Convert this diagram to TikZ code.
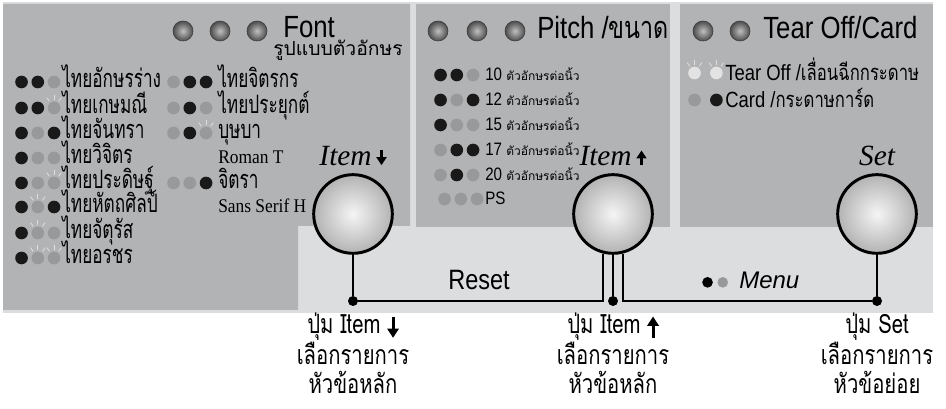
\documentclass[tikz,border=0pt]{standalone}
\usepackage{fontspec}
\setmainfont{Liberation Serif}
\setsansfont{Liberation Sans}
\newfontfamily\thaifont[Script=Thai]{Loma}
\newfontfamily\thailist[Script=Thai,FakeStretch=0.68]{Loma}
\newfontfamily\thaicond[Script=Thai,FakeStretch=0.76]{Loma}
\newfontfamily\condsans[FakeStretch=0.84]{Liberation Sans}
\newfontfamily\condserif[FakeStretch=0.9]{Liberation Serif}
\usetikzlibrary{arrows.meta,positioning}
\definecolor{panelgray}{RGB}{178,179,181}
\definecolor{basegray}{RGB}{220,221,223}
\definecolor{ledgray}{RGB}{152,153,155}

\newcommand\headfont{\condsans\fontsize{23}{25}\selectfont}
\newcommand\listfont{\thailist\fontsize{19}{21}\selectfont}
\newcommand\pitchfont{\condsans\fontsize{13.5}{15}\selectfont}
\newcommand\captionfont{\thaicond\fontsize{20}{22}\selectfont}
\newcommand\keydown{\tikz[baseline=0pt]\draw[line width=1.7pt,-{Triangle[width=7.5pt,length=6pt]}] (0,11pt) -- (0,0pt);}
\newcommand\keyup{\tikz[baseline=0pt]\draw[line width=1.7pt,-{Triangle[width=7.5pt,length=6pt]}] (0,0pt) -- (0,11pt);}
\newcommand\capdown{\tikz[baseline=0pt]\draw[line width=2.2pt,-{Triangle[width=8.5pt,length=7pt]}] (0,13pt) -- (0,-3pt);}
\newcommand\capup{\tikz[baseline=0pt]\draw[line width=2.2pt,-{Triangle[width=8.5pt,length=7pt]}] (0,-3pt) -- (0,13pt);}
\newcommand\ledtrio[5][1pt]{%
  \node[#5,left=#1 of #2.base west,yshift=4.5pt] (#2-3) {};
  \node[#4,left=2.3pt of #2-3] (#2-2) {};
  \node[#3,left=2.3pt of #2-2] (#2-1) {};
}
\newcommand\ledpair[3]{%
  \node[#3,left=1.5pt of #1.base west,yshift=6pt] (#1-2) {};
  \node[#2,left=6.5pt of #1-2] (#1-1) {};
}

\begin{document}
\begin{tikzpicture}[x=0.75pt,y=-0.75pt,
  lamp/.style={circle,inner sep=0pt,minimum size=15pt,draw=gray!50!black,line width=0.5pt,
    inner color=gray!50,outer color=gray!60!black},
  ledon/.style={circle,inner sep=0pt,minimum size=9.5pt,fill=black!90},
  ledoff/.style={circle,inner sep=0pt,minimum size=9.5pt,fill=ledgray},
  ray/.style={draw=gray!25,line width=0.6pt,shorten <=1.2pt},
  ledlit/.style={ledoff,append after command={
    (\tikzlastnode.90) edge[ray] ++(90:4.5pt)
    (\tikzlastnode.55) edge[ray] ++(55:4.5pt)
    (\tikzlastnode.125) edge[ray] ++(125:4.5pt)}},
  ledpale/.style={ledlit,fill=gray!22},
  row/.style={anchor=base west,inner sep=0pt},
  fontrow/.style={row,font=\listfont},
  pitchrow/.style={row,font=\pitchfont},
  tearrow/.style={row,font=\condsans\fontsize{16.5}{18}\selectfont},
  head/.style={row,font=\headfont},
  button/.style={circle,draw=black,line width=2.2pt,minimum size=59pt,inner sep=0pt,
    inner color=gray!8,outer color=gray!60},
  keylabel/.style={inner sep=0pt,font=\itshape\fontsize{22}{24}\selectfont},
  caption/.style={align=center,inner sep=0pt,font=\captionfont},
  jdot/.style={circle,fill=black,minimum size=7.5pt,inner sep=0pt},
  wire/.style={line width=1.6pt}]

\useasboundingbox (0,0) rectangle (946,409);

% panels
\fill[basegray] (3,2) rectangle (933,313);
\fill[panelgray] (3,4) -- (410,4) -- (410,226) -- (298,226) -- (298,310) -- (3,310) -- cycle;
\fill[panelgray] (416,4) rectangle (670,227);
\fill[panelgray] (680,4) rectangle (933,227);

% Font panel
\node[lamp] (fl1) at (183,31) {};
\node[lamp] (fl2) at (220,31) {};
\node[lamp] (fl3) at (257,31) {};
\node[head] (fhead) at (283,38) {Font};
\node[row,font=\thaifont\fontsize{14.5}{16}\selectfont] (fsub) at (273,56) {รูปแบบตัวอักษร};

\node[fontrow] (f1) at (62,88) {ไทยอักษรร่าง};
\node[fontrow] (f2) at (62,114) {ไทยเกษมณี};
\node[fontrow] (f3) at (62,139) {ไทยจันทรา};
\node[fontrow] (f4) at (62,164) {ไทยวิจิตร};
\node[fontrow] (f5) at (62,189) {ไทยประดิษฐ์};
\node[fontrow] (f6) at (62,213) {ไทยหัตถศิลป์};
\node[fontrow] (f7) at (62,239) {ไทยจัตุรัส};
\node[fontrow] (f8) at (62,264) {ไทยอรชร};
\ledtrio{f1}{ledon}{ledon}{ledoff}
\ledtrio{f2}{ledon}{ledon}{ledlit}
\ledtrio{f3}{ledon}{ledoff}{ledon}
\ledtrio{f4}{ledon}{ledoff}{ledoff}
\ledtrio{f5}{ledon}{ledoff}{ledlit}
\ledtrio{f6}{ledon}{ledlit}{ledon}
\ledtrio{f7}{ledon}{ledlit}{ledoff}
\ledtrio{f8}{ledon}{ledlit}{ledlit}

\node[fontrow] (g1) at (218,88) {ไทยจิตรกร};
\node[fontrow] (g2) at (218,114) {ไทยประยุกต์};
\node[fontrow] (g3) at (218,139) {บุษบา};
\node[row,font=\condserif\fontsize{14.5}{16}\selectfont] (g4) at (218,164) {Roman T};
\node[fontrow] (g5) at (218,189) {จิตรา};
\node[row,font=\condserif\fontsize{14.5}{16}\selectfont] (g6) at (218,213) {Sans Serif H};
\ledtrio[4pt]{g1}{ledoff}{ledon}{ledon}
\ledtrio[4pt]{g2}{ledoff}{ledon}{ledoff}
\ledtrio[4pt]{g3}{ledoff}{ledon}{ledlit}
\ledtrio[4pt]{g5}{ledoff}{ledoff}{ledon}

% Pitch panel
\node[lamp] (pl1) at (438,31) {};
\node[lamp] (pl2) at (477,31) {};
\node[lamp] (pl3) at (515,31) {};
\node[head] (phead) at (537,39) {Pitch /{\thaicond ขนาด}};

\node[pitchrow] (p1) at (485,81) {10 {\thaifont\fontsize{9}{10}\selectfont ตัวอักษรต่อนิ้ว}};
\node[pitchrow] (p2) at (485,106) {12 {\thaifont\fontsize{9}{10}\selectfont ตัวอักษรต่อนิ้ว}};
\node[pitchrow] (p3) at (485,131) {15 {\thaifont\fontsize{9}{10}\selectfont ตัวอักษรต่อนิ้ว}};
\node[pitchrow] (p4) at (485,156) {17 {\thaifont\fontsize{9}{10}\selectfont ตัวอักษรต่อนิ้ว}};
\node[pitchrow] (p5) at (485,181) {20 {\thaifont\fontsize{9}{10}\selectfont ตัวอักษรต่อนิ้ว}};
\node[pitchrow] (p6) at (485,205) {PS};
\ledtrio[4pt]{p1}{ledon}{ledon}{ledoff}
\ledtrio[4pt]{p2}{ledon}{ledoff}{ledon}
\ledtrio[4pt]{p3}{ledon}{ledoff}{ledoff}
\ledtrio[4pt]{p4}{ledoff}{ledon}{ledon}
\ledtrio[4pt]{p5}{ledoff}{ledon}{ledoff}
\ledtrio[1pt]{p6}{ledoff}{ledoff}{ledoff}

% Tear Off panel
\node[lamp] (tl1) at (703,31) {};
\node[lamp] (tl2) at (740,31) {};
\node[head] (thead) at (763,39) {Tear Off/Card};
\node[tearrow] (t1) at (725,81) {Tear Off /{\thaicond เลื่อนฉีกกระดาษ}};
\node[tearrow] (t2) at (725,108) {Card /{\thaicond กระดาษการ์ด}};
\ledpair{t1}{ledpale}{ledpale}
\ledpair{t2}{ledoff}{ledon}

% buttons
\node[button] (bdown) at (353,214) {};
\node[button] (bup) at (613,214) {};
\node[button] (bset) at (877,214) {};
\node[keylabel,above=5pt of bdown] (kdown) {Item\,\keydown};
\node[keylabel,above=5pt of bup] (kup) {Item\,\keyup};
\node[keylabel,above=5pt of bset] (kset) {Set};

% lower strip
\node[row,font=\condsans\fontsize{21}{24}\selectfont] (reset) at (448,290) {Reset};
\node[row,font=\sffamily\itshape\fontsize{18}{20}\selectfont] (menu) at (739,289) {Menu};
\node[circle,inner sep=0pt,minimum size=8pt,fill=ledgray,left=8pt of menu.base west,yshift=5pt] (menu-2) {};
\node[circle,inner sep=0pt,minimum size=8pt,fill=black,left=3pt of menu-2] (menu-1) {};

\node[jdot] (jdown) at (353,301) {};
\node[jdot] (jup) at (613,301) {};
\node[jdot] (jset) at (877,301) {};

\draw[wire] (bdown) -- (jdown);
\draw[wire] (bup) -- (jup);
\draw[wire] (bset) -- (jset);
\draw[wire] (jdown) -| (bup.256);
\draw[wire] (bup.284) |- (jset);

% captions
\node[caption,below=5pt of jdown] (cdown) {ปุ่ม Item \capdown\\เลือกรายการ\\หัวข้อหลัก};
\node[caption,below=5pt of jup] (cup) {ปุ่ม Item \capup\\เลือกรายการ\\หัวข้อหลัก};
\node[caption,below=5pt of jset] (cset) {ปุ่ม Set\\เลือกรายการ\\หัวข้อย่อย};

\end{tikzpicture}
\end{document}
